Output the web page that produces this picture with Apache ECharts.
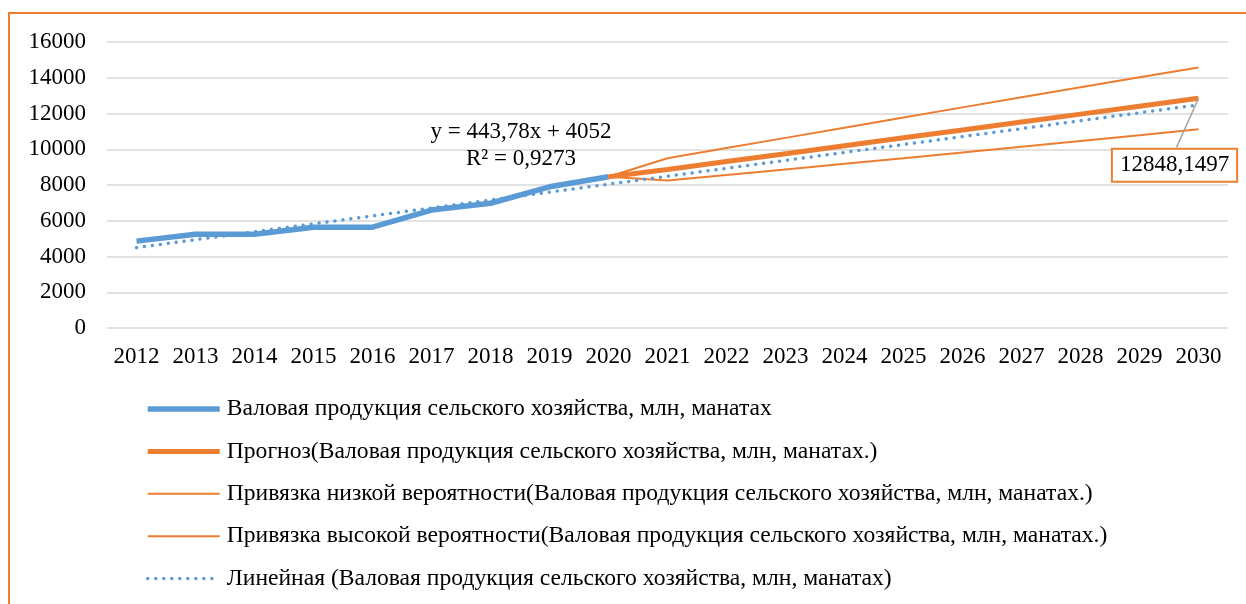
<!DOCTYPE html>
<html>
<head>
<meta charset="utf-8">
<script src="https://cdn.jsdelivr.net/npm/echarts@6/dist/echarts.min.js"></script>
<style>
  html, body { margin: 0; padding: 0; background: #fff; }
  #chart { width: 1246px; height: 604px; }
</style>
</head>
<body>
<div id="chart"></div>
<script>
// years on the x axis
const years = ['2012', '2013', '2014', '2015', '2016', '2017', '2018', '2019', '2020', '2021',
  '2022', '2023', '2024', '2025', '2026', '2027', '2028', '2029', '2030'];

// actual values 2012-2020
const actual = [4860, 5240, 5250, 5640, 5640, 6600, 6980, 7900, 8466];
// forecast 2020-2030 (starts at last actual)
const forecast = [8466, 8870, 9312, 9754, 10196, 10638, 11080, 11522, 11964, 12406, 12848.1497];
// lower / upper confidence bounds 2020-2030
const lowerBound = [8466, 8246, 8557, 8872, 9186, 9500, 9818, 10140, 10464, 10788, 11118];
const upperBound = [8466, 9494, 10067, 10636, 11206, 11776, 12342, 12904, 13464, 14024, 14578];
// linear trend line y = 443,78x + 4052
const trend = [4496, 4940, 5383, 5827, 6271, 6715, 7159, 7602, 8046, 8490, 8934, 9377, 9821,
  10265, 10709, 11152, 11596, 12040, 12484];

const yTicks = { min: 0, max: 16000, interval: 2000 };

const names = [
  'Валовая продукция сельского хозяйства, млн, манатах',
  'Прогноз(Валовая продукция сельского хозяйства, млн, манатах.)',
  'Привязка низкой вероятности(Валовая продукция сельского хозяйства, млн, манатах.)',
  'Привязка высокой вероятности(Валовая продукция сельского хозяйства, млн, манатах.)',
  'Линейная (Валовая продукция сельского хозяйства, млн, манатах)'
];

const BLUE = '#5B9BD5';
const ORANGE = '#ED7D31';
const FONT = '"Liberation Serif", "DejaVu Serif", serif';
const FS = 23;

// pad forecast-type series so they start at 2020
const pad = (arr) => new Array(years.length - arr.length).fill('-').concat(arr);

const lineStyles = [
  { color: BLUE, width: 5.5 },
  { color: ORANGE, width: 5 },
  { color: ORANGE, width: 2 },
  { color: ORANGE, width: 2 },
  { color: BLUE, width: 3.5, type: [0.01, 8], cap: 'round' }
];

const myChart = echarts.init(document.getElementById('chart'));

const option = {
  animation: false,
  textStyle: { fontFamily: FONT, color: '#000' },
  grid: { left: 107, right: 18, top: 42, bottom: 276 },
  xAxis: {
    type: 'category',
    data: years,
    boundaryGap: true,
    axisLine: { show: false },
    axisTick: { show: false },
    axisLabel: { fontFamily: FONT, fontSize: FS, color: '#000', margin: 17, interval: 0 }
  },
  yAxis: {
    type: 'value',
    min: yTicks.min,
    max: yTicks.max,
    interval: yTicks.interval,
    axisLabel: { fontFamily: FONT, fontSize: FS, color: '#000', margin: 21, formatter: (v) => String(v) },
    splitLine: { lineStyle: { color: '#d9d9d9', width: 1.5 } }
  },
  legend: {
    orient: 'vertical',
    left: 140,
    top: 392,
    itemWidth: 72,
    itemHeight: 14,
    itemGap: 18.4,
    itemStyle: { opacity: 0 },
    textStyle: { fontFamily: FONT, fontSize: 23.6, color: '#000', lineHeight: 22, padding: [0, 0, 0, 2] },
    data: names.map((n, i) => ({ name: n, lineStyle: lineStyles[i], itemStyle: { opacity: 0 } }))
  },
  series: [
    {
      name: names[0],
      type: 'line',
      data: actual,
      symbol: 'none',
      z: 2,
      lineStyle: lineStyles[0],
      itemStyle: { color: BLUE }
    },
    {
      name: names[1],
      type: 'line',
      data: pad(forecast),
      symbol: 'none',
      z: 3,
      lineStyle: lineStyles[1],
      itemStyle: { color: ORANGE }
    },
    {
      name: names[2],
      type: 'line',
      data: pad(lowerBound),
      symbol: 'none',
      z: 3,
      lineStyle: lineStyles[2],
      itemStyle: { color: ORANGE }
    },
    {
      name: names[3],
      type: 'line',
      data: pad(upperBound),
      symbol: 'none',
      z: 3,
      lineStyle: lineStyles[3],
      itemStyle: { color: ORANGE }
    },
    {
      name: names[4],
      type: 'line',
      data: trend,
      symbol: 'none',
      z: 4,
      lineStyle: lineStyles[4],
      itemStyle: { color: BLUE }
    }
  ]
};

myChart.setOption(option);

// callout for the last forecast value, anchored to the point through the chart's own scales
const lastIdx = years.length - 1;
const lastVal = forecast[forecast.length - 1];
const pt = myChart.convertToPixel({ seriesIndex: 1 }, [years[lastIdx], lastVal]);

myChart.setOption({
  graphic: [
    // outer frame of the chart area
    {
      type: 'rect',
      shape: { x: 9, y: 13, width: 1300, height: 700 },
      style: { fill: 'none', stroke: ORANGE, lineWidth: 2 },
      silent: true
    },
    {
      type: 'text',
      x: 521,
      y: 118,
      style: {
        text: 'y = 443,78x + 4052\nR² = 0,9273',
        font: FS + 'px ' + FONT,
        fill: '#000',
        align: 'center',
        verticalAlign: 'top',
        lineHeight: 27
      }
    },
    {
      type: 'line',
      z: 10,
      shape: { x1: pt[0], y1: pt[1], x2: pt[0] - 22, y2: pt[1] + 49 },
      style: { stroke: '#a6a6a6', lineWidth: 1.5 }
    },
    {
      type: 'text',
      z: 11,
      x: pt[0] - 24,
      y: pt[1] + 67,
      style: {
        text: String(lastVal).replace('.', ','),
        font: FS + 'px ' + FONT,
        fill: '#000',
        align: 'center',
        verticalAlign: 'middle',
        backgroundColor: '#fff',
        borderColor: ORANGE,
        borderWidth: 2,
        padding: [5, 7, 3, 7]
      }
    }
  ]
});
</script>
</body>
</html>
